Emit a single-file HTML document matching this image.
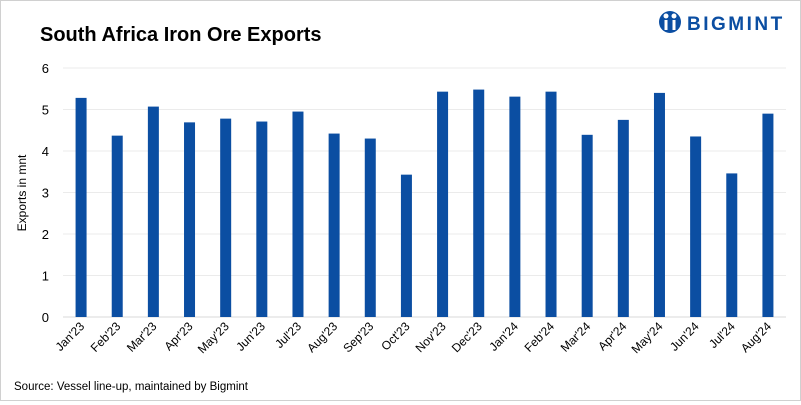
<!DOCTYPE html>
<html><head><meta charset="utf-8"><style>
body{margin:0;background:#fff;}
#wrap{position:relative;width:799px;height:399px;border:1px solid #d0d0d0;background:#fff;font-family:"Liberation Sans",sans-serif;}
</style></head><body>
<div id="wrap">
<svg id="chart" width="799" height="399" xmlns="http://www.w3.org/2000/svg">
<text x="39" y="40" font-size="20" font-weight="bold" fill="#000">South Africa Iron Ore Exports</text>
<g>
<circle cx="669" cy="21" r="11" fill="#0b4ea2"/>
<circle cx="665" cy="15" r="2.5" fill="#fff"/><circle cx="673" cy="15" r="2.5" fill="#fff"/>
<rect x="663.5" y="19" width="3" height="10" fill="#fff"/><rect x="671.5" y="19" width="3" height="10" fill="#fff"/>
<text x="686" y="29" font-size="19" font-weight="bold" fill="#0b4ea2" letter-spacing="2.5">BIGMINT</text>
</g>
<g id="grid"></g><g id="bars"></g><g id="yt"></g><g id="xt"></g>
<text transform="translate(25,192) rotate(-90)" text-anchor="middle" font-size="12" fill="#000">Exports in mnt</text>
<text x="13" y="389" font-size="11.5" fill="#000">Source: Vessel line-up, maintained by Bigmint</text>
</svg></div>
<script>
const categories=["Jan'23","Feb'23","Mar'23","Apr'23","May'23","Jun'23","Jul'23","Aug'23","Sep'23","Oct'23","Nov'23","Dec'23","Jan'24","Feb'24","Mar'24","Apr'24","May'24","Jun'24","Jul'24","Aug'24"];
const exportsValues=[5.28,4.37,5.07,4.69,4.78,4.71,4.95,4.42,4.30,3.43,5.43,5.48,5.31,5.43,4.39,4.75,5.40,4.35,3.46,4.90];
const yTicks=[0,1,2,3,4,5,6];
const NS="http://www.w3.org/2000/svg";
const L=62,R=785,Y0=316,Y6=67;
const y=v=>Y0-(v/6)*(Y0-Y6);
const step=(R-L)/categories.length;
const x=i=>L+step*(i+0.5);
function mk(t,a,p){const e=document.createElementNS(NS,t);for(const k in a)e.setAttribute(k,a[k]);p.appendChild(e);return e;}
const g=document.getElementById('grid'),b=document.getElementById('bars'),yt=document.getElementById('yt'),xt=document.getElementById('xt');
yTicks.forEach(v=>{
 const l=mk('line',{x1:L,x2:R,y1:y(v),y2:y(v),stroke:v===0?'#d9d9d9':'#ebebeb','stroke-width':1},g);
 
 
 const t=mk('text',{x:48,y:y(v)+5,'text-anchor':'end','font-size':13,fill:'#000'},yt);
 t.textContent=v;
 
 
});
categories.forEach((c,i)=>{
 const r=mk('rect',{x:x(i)-5.5,y:y(exportsValues[i]),width:11,height:Y0-y(exportsValues[i]),fill:'#0b4ea2'},b);
 
 
 const t=mk('text',{x:x(i)+4,y:326,'text-anchor':'end','font-size':12,fill:'#000',transform:`rotate(-45 ${x(i)+4} 326)`},xt);
 t.textContent=c;
 
 
});
</script>
</body></html>
